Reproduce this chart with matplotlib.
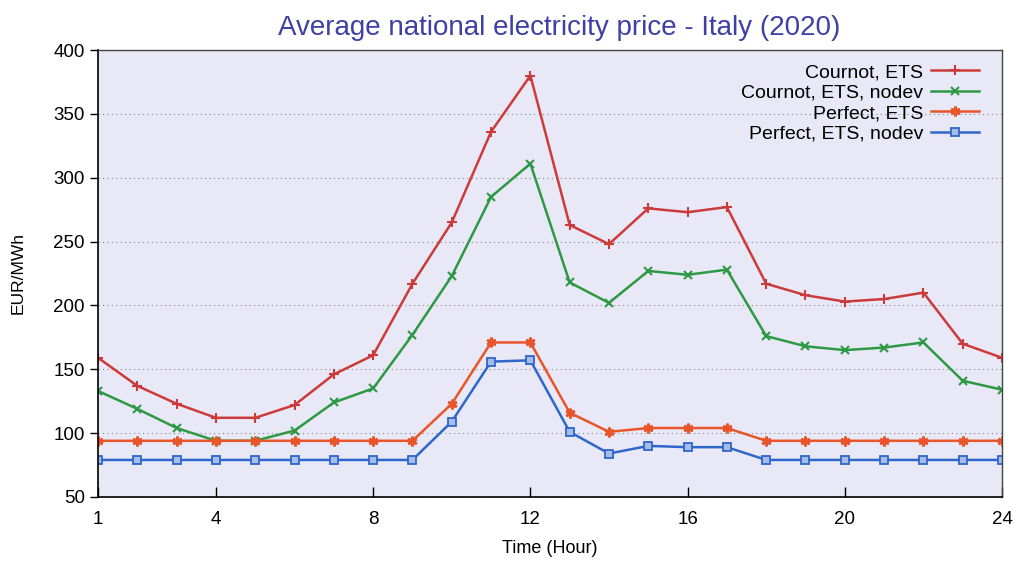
import matplotlib
matplotlib.use("Agg")
import matplotlib.pyplot as plt

plt.rcParams['font.family'] = ['Liberation Sans', 'DejaVu Sans']

hours = list(range(1, 25))

cournot_ets = [159, 137, 123, 112, 112, 122, 146, 161, 217, 265, 336, 380,
               263, 248, 276, 273, 277, 217, 208, 203, 205, 210, 170, 159]
cournot_ets_nodev = [133, 119, 104, 94, 94, 102, 124, 135, 177, 223, 285, 311,
                     218, 202, 227, 224, 228, 176, 168, 165, 167, 171, 141, 134]
perfect_ets = [94, 94, 94, 94, 94, 94, 94, 94, 94, 123, 171, 171,
               116, 101, 104, 104, 104, 94, 94, 94, 94, 94, 94, 94]
perfect_ets_nodev = [79, 79, 79, 79, 79, 79, 79, 79, 79, 109, 156, 157,
                     101, 84, 90, 89, 89, 79, 79, 79, 79, 79, 79, 79]

x_ticks = [1, 4, 8, 12, 16, 20, 24]
y_ticks = [50, 100, 150, 200, 250, 300, 350, 400]

fig = plt.figure(figsize=(10.18, 5.62), dpi=100)
ax = fig.add_axes([0.0963, 0.1157, 0.888, 0.7953])
ax.set_facecolor('#e8e8f6')

ax.plot(hours, cournot_ets, color='#cc3b3b', marker='+', markersize=7, mew=1.5, lw=1.8, label='Cournot, ETS')
ax.plot(hours, cournot_ets_nodev, color='#2e9945', marker='x', markersize=6, mew=1.5, lw=1.8, label='Cournot, ETS, nodev')
ax.plot(hours, perfect_ets, color='#e8552a', marker=(6, 2, 0), markersize=7, mew=2, lw=1.8, label='Perfect, ETS')
ax.plot(hours, perfect_ets_nodev, color='#2f66c9', marker='s', markersize=5.5, mew=1.3,
        mfc='#a8bce8', lw=1.8, label='Perfect, ETS, nodev')

ax.set_xlim(1, 24)
ax.set_ylim(50, 400)
ax.set_xticks(x_ticks)
ax.set_yticks(y_ticks)
ax.tick_params(axis='y', direction='out', length=6, labelsize=13.5, width=1)
ax.tick_params(axis='x', direction='in', length=7, labelsize=13.5, width=1, pad=10)
ax.grid(axis='y', linestyle=(0, (1, 3)), color='#888888', lw=0.8)

for side in ['left', 'bottom']:
    ax.spines[side].set_color('black')
    ax.spines[side].set_linewidth(1.2)
for side in ['top', 'right']:
    ax.spines[side].set_color('#444444')
    ax.spines[side].set_linewidth(1.0)

ax.set_xlabel('Time (Hour)', fontsize=13, labelpad=9)
ax.set_ylabel('EUR/MWh', fontsize=12.5, labelpad=20)
ax.set_title('Average national electricity price - Italy (2020)', fontsize=20,
             color='#3f3fa6', pad=11, x=0.51)

ax.legend(loc='upper right', bbox_to_anchor=(0.99, 1.0), frameon=False,
          markerfirst=False, fontsize=14, handlelength=2.5, handletextpad=0.4,
          labelspacing=0.15, borderaxespad=0.2, borderpad=0.5)

fig.savefig('out.png', dpi=100)
